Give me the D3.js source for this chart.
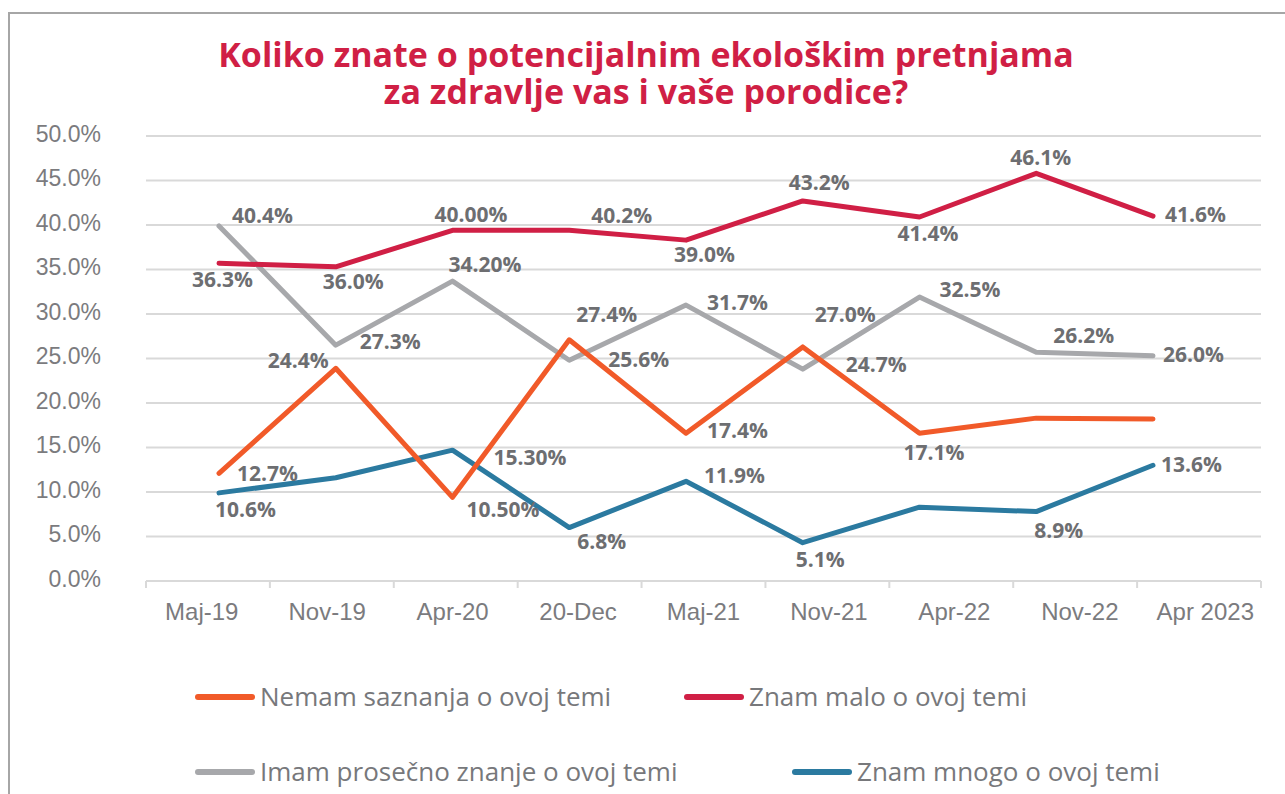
<!DOCTYPE html>
<html lang="sr">
<head>
  <meta charset="utf-8">
  <script src="https://d3js.org/d3.v7.min.js"></script>
  <style>
    body { margin: 0; background: #fff; }
    svg { display: block; font-family: "Open Sans", sans-serif; }
    .grid line { stroke: #d9d9d9; stroke-width: 2; }
    .axis text { fill: #7b7b7e; font-size: 23px; }
    .xaxis text { font-size: 24px; }
    .axis path, .axis line { stroke: none; }
    .val { fill: #6d6e71; font-size: 21px; font-weight: 700; }
    .legend text { fill: #77787b; font-size: 26px; }
  </style>
</head>
<body>
<svg id="chart" width="1285" height="794"></svg>
<script>
  // categories (x axis)
  const categories = ["Maj-19", "Nov-19", "Apr-20", "20-Dec", "Maj-21", "Nov-21", "Apr-22", "Nov-22", "Apr 2023"];
  const yTicks = [0, 0.05, 0.10, 0.15, 0.20, 0.25, 0.30, 0.35, 0.40, 0.45, 0.50];

  // series values as plotted
  const nemamValues = [0.121, 0.239, 0.094, 0.271, 0.166, 0.263, 0.166, 0.183, 0.182];
  const maloValues = [0.357, 0.353, 0.394, 0.394, 0.383, 0.427, 0.409, 0.458, 0.410];
  const prosecnoValues = [0.399, 0.265, 0.337, 0.248, 0.310, 0.238, 0.319, 0.257, 0.253];
  const mnogoValues = [0.099, 0.116, 0.147, 0.060, 0.112, 0.043, 0.083, 0.078, 0.130];

  // data label texts as printed on the chart
  const nemamLabels = ["12.7%", "24.4%", "10.50%", "27.4%", "17.4%", "27.0%", "17.1%", null, null];
  const maloLabels = ["36.3%", "36.0%", "40.00%", "40.2%", "39.0%", "43.2%", "41.4%", "46.1%", "41.6%"];
  const prosecnoLabels = ["40.4%", "27.3%", "34.20%", "25.6%", "31.7%", "24.7%", "32.5%", "26.2%", "26.0%"];
  const mnogoLabels = ["10.6%", null, "15.30%", "6.8%", "11.9%", "5.1%", null, "8.9%", "13.6%"];

  const seriesNames = ["Nemam saznanja o ovoj temi", "Znam malo o ovoj temi", "Imam prosečno znanje o ovoj temi", "Znam mnogo o ovoj temi"];
  const seriesColors = ["#f15a29", "#d01f45", "#a7a8ab", "#2b7aa0"];

  // label placement relative to each point (left edge, baseline)
  const labelOffsets = [
    [[18, 8], [-68, 0], [14, 20], [7, -18], [21, 5], [12, -25], [-16, 27], [0, 0], [0, 0]],
    [[-27, 24], [-13, 22], [-18, -8], [22, -7], [-12, 22], [-14, -11], [-22, 24], [-26, -8], [12, 6]],
    [[13, -3], [24, 4], [-4, -9], [39, 7], [21, 5], [43, 3], [20, 0], [17, -9], [10, 6]],
    [[-4, 24], [0, 0], [41, 15], [8, 21], [18, 2], [-7, 24], [0, 0], [-2, 26], [8, 7]]
  ];

  const allValues = [nemamValues, maloValues, prosecnoValues, mnogoValues];
  const allLabels = [nemamLabels, maloLabels, prosecnoLabels, mnogoLabels];

  const svg = d3.select("#chart");

  // outer frame
  svg.append("rect")
    .attr("x", 9).attr("y", 13)
    .attr("width", 1290).attr("height", 800)
    .attr("fill", "none")
    .attr("stroke", "#a6a6a6")
    .attr("stroke-width", 2);

  // title, two lines
  svg.append("g")
    .selectAll("text")
    .data(["Koliko znate o potencijalnim ekološkim pretnjama", "za zdravlje vas i vaše porodice?"])
    .join("text")
    .attr("text-anchor", "middle")
    .attr("fill", "#d01f45")
    .attr("font-size", "34px")
    .attr("font-weight", 700)
    .attr("x", 646)
    .attr("y", (d, i) => 67 + i * 37)
    .text(d => d);

  const xBand = d3.scaleBand().domain(categories).range([146, 1261]);
  const xLabel = d3.scaleBand().domain(categories).range([139, 1268]);
  const xPoint = d3.scalePoint().domain(categories).range([219, 1153]);
  const y = d3.scaleLinear().domain([0, 0.5]).range([581, 136]);

  // gridlines
  svg.append("g")
    .attr("class", "grid")
    .selectAll("line")
    .data(yTicks)
    .join("line")
    .attr("x1", 146).attr("x2", 1261)
    .attr("y1", d => y(d)).attr("y2", d => y(d));

  // category boundary ticks
  svg.append("g")
    .attr("class", "grid")
    .selectAll("line")
    .data(categories.map(c => xBand(c)).concat([xBand.range()[1]]))
    .join("line")
    .attr("x1", d => d).attr("x2", d => d)
    .attr("y1", y(0)).attr("y2", y(0) + 7);

  // y axis
  svg.append("g")
    .attr("class", "axis")
    .attr("transform", "translate(101,0)")
    .call(d3.axisLeft(y).tickValues(yTicks).tickFormat(d3.format(".1%")).tickSize(0).tickPadding(0))
    .call(g => g.select(".domain").remove())
    .selectAll("text").attr("dy", "0.22em");

  // x axis
  svg.append("g")
    .attr("class", "axis xaxis")
    .attr("transform", `translate(0,${y(0)})`)
    .call(d3.axisBottom(xLabel).tickSize(0).tickPadding(22))
    .call(g => g.select(".domain").remove());

  const line = d3.line()
    .defined(d => d != null)
    .x((d, i) => xPoint(categories[i]))
    .y(d => y(d));

  const drawOrder = [2, 3, 0, 1];
  drawOrder.forEach(s => {
    svg.append("path")
      .datum(allValues[s])
      .attr("fill", "none")
      .attr("stroke", seriesColors[s])
      .attr("stroke-width", 5)
      .attr("stroke-linejoin", "round")
      .attr("stroke-linecap", "round")
      .attr("d", line);
  });

  // data labels
  allLabels.forEach((labels, s) => {
    svg.append("g")
      .selectAll("text")
      .data(labels.map((t, i) => ({ t, i })).filter(d => d.t))
      .join("text")
      .attr("class", "val")
      .attr("x", d => xPoint(categories[d.i]) + labelOffsets[s][d.i][0])
      .attr("y", d => y(allValues[s][d.i]) + labelOffsets[s][d.i][1])
      .text(d => d.t);
  });

  // legend
  const legendPos = [[198, 697], [687, 697], [198, 772], [795, 772]];
  const legend = svg.append("g").attr("class", "legend")
    .selectAll("g")
    .data(seriesNames)
    .join("g")
    .attr("transform", (d, i) => `translate(${legendPos[i][0]},${legendPos[i][1]})`);
  legend.append("line")
    .attr("x1", 0).attr("x2", 54)
    .attr("stroke", (d, i) => seriesColors[i])
    .attr("stroke-width", 6)
    .attr("stroke-linecap", "round");
  legend.append("text")
    .attr("x", 62)
    .attr("y", 9)
    .text(d => d);
</script>
</body>
</html>
